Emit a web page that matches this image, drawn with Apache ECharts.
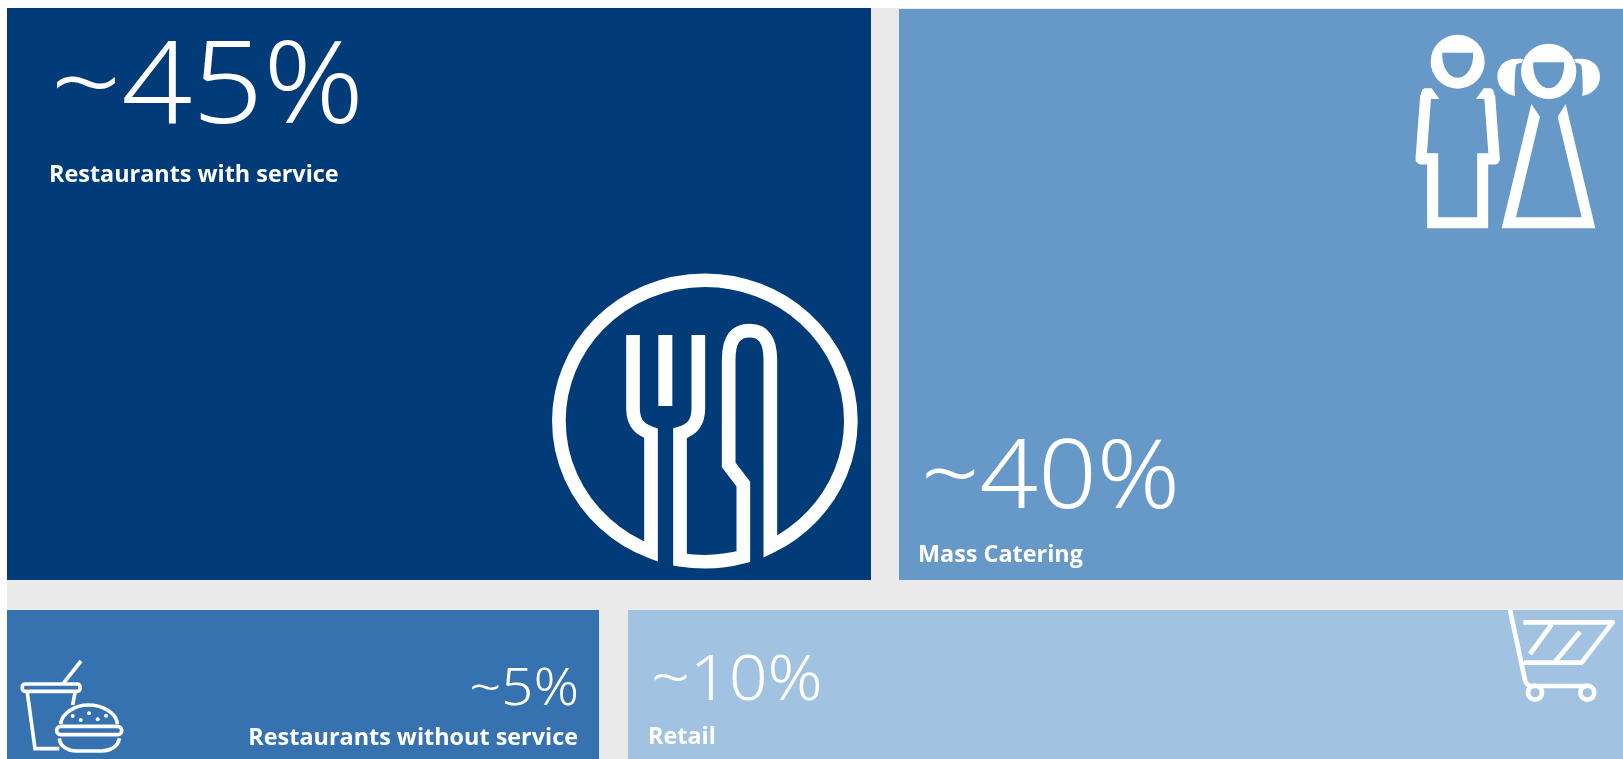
<!DOCTYPE html>
<html>
<head>
<meta charset="utf-8">
<title>Market shares</title>
<script src="https://cdn.jsdelivr.net/npm/echarts@6/dist/echarts.min.js"></script>
<style>
html, body { margin: 0; padding: 0; background: #fff; }
#main { width: 1623px; height: 759px; }
</style>
</head>
<body>
<div id="main"></div>
<script>
// data
var tileNames = ['Restaurants with service', 'Mass Catering', 'Restaurants without service', 'Retail'];
var tileShares = [45, 40, 5, 10];

// look of the tiles
var tileColors = ['#023c78', '#6699c8', '#3572af', '#a1c2e0'];
var tileBoxes = [
    {left: 7, top: 8, width: 864, height: 572},
    {left: 899, top: 9, width: 724, height: 571},
    {left: 7, top: 610, width: 592, height: 149},
    {left: 628, top: 610, width: 995, height: 149}
];
// x, baseline, font size, align of the big number and of the name
var shareText = [
    {x: 50.5, y: 122, size: 115, align: 'left'},
    {x: 921, y: 508, size: 95, align: 'left'},
    {x: 579, y: 705, size: 52, align: 'right'},
    {x: 651, y: 700, size: 63, align: 'left'}
];
var nameText = [
    {x: 49, y: 182, align: 'left'},
    {x: 918, y: 562, align: 'left'},
    {x: 578, y: 745, align: 'right'},
    {x: 648, y: 744, align: 'left'}
];

var myChart = echarts.init(document.getElementById('main'));

var grids = [], xAxes = [], yAxes = [], series = [], graphics = [];

// white page edge, the grey sheet starts below and right of it
graphics.push({type: 'rect', silent: true, z: 0, shape: {x: 0, y: 0, width: 1623, height: 8}, style: {fill: '#fff'}});
graphics.push({type: 'rect', silent: true, z: 0, shape: {x: 0, y: 0, width: 7, height: 759}, style: {fill: '#fff'}});

// every tile is one full bar in its own grid
for (var i = 0; i < tileNames.length; i++) {
    grids.push(tileBoxes[i]);
    xAxes.push({type: 'value', gridIndex: i, min: 0, max: tileShares[i], show: false});
    yAxes.push({type: 'category', gridIndex: i, data: [tileNames[i]], show: false});
    series.push({
        name: tileNames[i],
        type: 'bar',
        xAxisIndex: i,
        yAxisIndex: i,
        barWidth: '100%',
        silent: true,
        animation: false,
        itemStyle: {color: tileColors[i]},
        data: [tileShares[i]]
    });
    graphics.push({
        type: 'text', z: 10, silent: true,
        x: shareText[i].x, y: shareText[i].y - shareText[i].size * 0.78,
        scaleX: 1.08,
        style: {
            text: '~' + tileShares[i] + '%',
            fill: '#fff',
            align: shareText[i].align,
            verticalAlign: 'top',
            fontFamily: 'Noto Sans',
            fontWeight: 300,
            fontSize: shareText[i].size
        }
    });
    graphics.push({
        type: 'text', z: 10, silent: true,
        x: nameText[i].x, y: nameText[i].y - 18,
        style: {
            text: tileNames[i],
            fill: '#fff',
            align: nameText[i].align,
            verticalAlign: 'top',
            fontFamily: 'Open Sans',
            fontWeight: 700,
            fontSize: 23.4
        }
    });
}

// icons are drawn at 3x and scaled down
function icon(x, y, children) {
    return {type: 'group', x: x, y: y, scaleX: 1 / 3, scaleY: 1 / 3, children: children};
}
function line(d, w, join) {
    return {type: 'path', shape: {pathData: d}, style: {fill: 'none', stroke: '#fff', lineWidth: w, lineJoin: join || 'miter', lineCap: 'butt'}};
}
function solid(d, color) {
    return {type: 'path', shape: {pathData: d}, style: {fill: color || '#fff'}};
}
function dot(x, y, r, w) {
    return {type: 'circle', shape: {cx: x, cy: y, r: r}, style: w ? {fill: 'none', stroke: '#fff', lineWidth: w} : {fill: '#fff'}};
}

var icons = [
    // fork and knife
    icon(530, 260, [
        line('M309 225 V445 C309 495 335 510 363 520 V875 A438 422 0 1 1 721 860 V300 C721 240 700 212 660 212 C615 212 596 240 596 300 V615 L640 672 V890 A438 422 0 0 1 450 899 V520 C485 510 505 490 505 445 V225', 41),
        line('M406 225 V438', 42)
    ]),
    // children
    icon(1390, 0, [
        dot(203, 185, 81),
        solid('M157 158 H249 C252 200 230 233 203 233 C175 233 155 200 157 158 Z', tileColors[1]),
        solid('M108 265 H125 L148 297 H108 L92 292 C93 272 98 265 108 265 Z'),
        solid('M298 265 H281 L258 297 H298 L314 292 C313 272 308 265 298 265 Z'),
        line('M107 288 L93 477 H128', 33, 'round'),
        line('M128 460 V668 H278 V460', 33),
        line('M278 477 H313 L299 288', 33, 'round'),
        dot(476, 214, 83),
        solid('M430 187 H522 C525 230 503 265 476 265 C449 265 427 230 430 187 Z', tileColors[1]),
        solid('M400 178 C350 170 322 195 322 230 C322 260 345 282 375 288 C372 260 375 215 378 195 C382 190 390 188 395 188 Z'),
        solid('M552 178 C602 170 630 195 630 230 C630 260 607 282 577 288 C580 260 577 215 574 195 C570 190 562 188 557 188 Z'),
        solid('M424 312 L450 350 L378 652 H575 L503 350 L527 312 L616 685 H335 Z')
    ]),
    // drink and burger
    icon(0, 650, [
        {type: 'rect', shape: {x: 67, y: 102, width: 173, height: 22, r: 8}, style: {fill: 'none', stroke: '#fff', lineWidth: 11}},
        line('M82 128 L105 296 H178', 11),
        line('M225 128 L218 165', 11),
        line('M190 100 L243 33', 11),
        line('M182 222 C185 190 225 165 265 165 C310 165 350 190 352 222', 11),
        {type: 'rect', shape: {x: 170, y: 229, width: 195, height: 25, r: 12}, style: {fill: 'none', stroke: '#fff', lineWidth: 11}},
        line('M178 265 C180 290 205 303 230 303 H305 C330 303 355 290 358 265', 11),
        dot(218, 198, 6), dot(242, 210, 6), dot(267, 190, 6), dot(293, 208, 6), dot(318, 197, 6)
    ]),
    // shopping cart
    icon(1480, 590, [
        line('M90 60 L135 270 Q140 288 155 288 H320', 14, 'round'),
        line('M130 97 H398 L305 218 H132', 14, 'round'),
        line('M215 103 L150 192', 14),
        line('M300 125 L225 215', 14),
        dot(165, 308, 21, 14),
        dot(322, 308, 21, 14)
    ])
];

// the pictograms go in a custom series, the graphic component has no free path type
series.push({
    type: 'custom',
    coordinateSystem: 'none',
    silent: true,
    animation: false,
    z: 5,
    data: [0],
    renderItem: function () {
        return {type: 'group', children: icons};
    }
});

var option = {
    backgroundColor: '#eaeaea',
    animation: false,
    tooltip: {show: false},
    grid: grids,
    xAxis: xAxes,
    yAxis: yAxes,
    series: series,
    graphic: {elements: graphics}
};
myChart.setOption(option, true);
</script>
</body>
</html>
